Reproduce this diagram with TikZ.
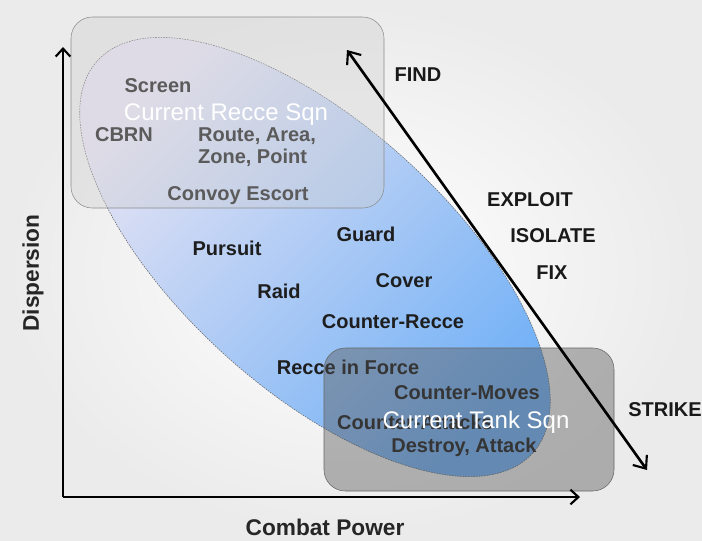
\documentclass[tikz,border=0pt]{standalone}
\usepackage{fontspec}
\setmainfont{Liberation Sans}
\usetikzlibrary{arrows.meta}
\definecolor{ellA}{RGB}{232,228,244}
\definecolor{ellB}{RGB}{112,176,246}
\definecolor{recce}{RGB}{205,205,205}
\definecolor{tank}{RGB}{85,85,85}
\definecolor{taskgray}{RGB}{30,30,30}

\begin{document}
\begin{tikzpicture}[
        x=0.75pt, y=-0.75pt,
        task/.style={font=\fontsize{15}{16.5}\selectfont\bfseries, text=taskgray,
                     align=left, inner sep=0pt},
        phase/.style={font=\fontsize{15}{18}\selectfont\bfseries, text=black!90,
                      inner sep=0pt},
        sqn/.style={font=\fontsize{18}{20}\selectfont, text=white, inner sep=0pt},
        axlabel/.style={font=\fontsize{17}{20}\selectfont\bfseries, text=black!85},
        sqnbox/.style={rounded corners=16pt, thin},
        axis/.style={-{Straight Barb[length=6pt, width=11pt, line width=1.6pt]}, line width=2.2pt},
        arrow/.style={{Straight Barb[length=8pt, width=13pt, line width=1.6pt]}-{Straight Barb[length=8pt, width=13pt, line width=1.6pt]}, line width=2pt},
    ]
        \useasboundingbox (0,0) rectangle (702,540);
        \shade[inner color=white, outer color=gray!16] (0,0) rectangle (702,540);

        % mission ellipse
        \shade[top color=ellA, bottom color=ellB, shading angle=45]
            (315,257) ellipse [x radius=293, y radius=133, rotate=-42];
        \draw[black!60, thin, dash pattern=on 1.2pt off 0.8pt]
            (315,257) ellipse [x radius=293, y radius=133, rotate=-42];

        % tasks
        \node[task] (screen) at (158,86) {Screen};
        \node[task] (cbrn) at (124,135) {CBRN};
        \node[task] (route) at (257,147) {Route, Area,\\Zone, Point};
        \node[task] (convoy) at (238,196) {Convoy Escort};
        \node[task] (pursuit) at (227,248) {Pursuit};
        \node[task] (guard) at (366,234) {Guard};
        \node[task] (raid) at (279,291) {Raid};
        \node[task] (cover) at (404,281) {Cover};
        \node[task] (crecce) at (393,322) {Counter-Recce};
        \node[task] (rif) at (348,367) {Recce in Force};
        \node[task] (cmoves) at (467,393) {Counter-Moves};
        \node[task] (cattacks) at (415,422) {Counter-Attacks};
        \node[task] (destroy) at (464,447) {Destroy, Attack};

        % squadron boxes
        \draw[sqnbox, draw=black!45, fill=recce, fill opacity=0.35] (71,17) rectangle (384,208);
        \draw[sqnbox, draw=black!60, fill=tank, fill opacity=0.42] (324,348) rectangle (614,491);
        \node[sqn] (recce) at (226,115) {Current Recce Sqn};
        \node[sqn] (tanksqn) at (476,422) {Current Tank Sqn};

        % axes
        \coordinate (origin) at (63,497);
        \coordinate (ytip) at (63,47);
        \coordinate (xtip) at (580,497);
        \draw[axis] (origin) -- (ytip);
        \draw[axis] (origin) -- (xtip);
        \node[axlabel, rotate=90] (disp) at (33,273) {Dispersion};
        \node[axlabel] (power) at (325,527) {Combat Power};

        % find-strike arrow
        \coordinate (findtip) at (347,50);
        \coordinate (striketip) at (647,470);
        \draw[arrow] (findtip) -- (striketip);
        \node[phase] (find) at (418,75) {FIND};
        \node[phase] (exploit) at (530,200) {EXPLOIT};
        \node[phase] (isolate) at (553,236) {ISOLATE};
        \node[phase] (fix) at (552,273) {FIX};
        \node[phase, anchor=west] (strike) at (628,410) {STRIKE};
    \end{tikzpicture}
\end{document}
